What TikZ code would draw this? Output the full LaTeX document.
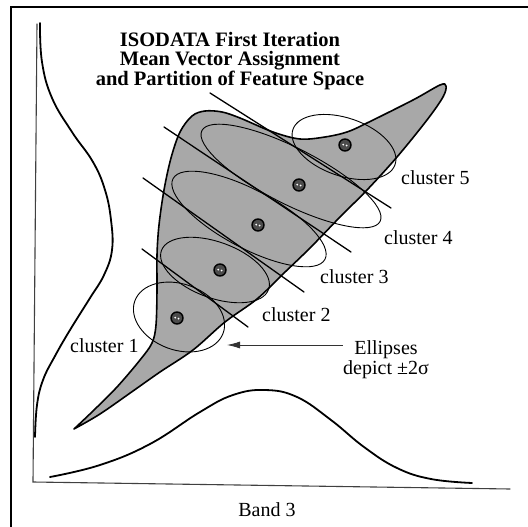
\documentclass[tikz,border=0pt]{standalone}
\usepackage{fontspec}
\setmainfont{Liberation Serif}
\usepackage{tikz}
\usetikzlibrary{arrows.meta,calc}

\begin{document}
\begin{tikzpicture}[x=1pt, y=-1pt,
    frameline/.style={
        black,
        line width=2pt
    },
    axisline/.style={
        black!75,
        line width=1.1pt,
        line cap=round
    },
    margcurve/.style={
        black,
        line width=1.8pt,
        line cap=round,
        line join=round
    },
    blob/.style={
        fill=black!34,
        draw=black,
        line width=1.6pt,
        line join=round
    },
    ellline/.style={
        black,
        line width=0.9pt
    },
    partline/.style={
        black,
        line width=1.3pt,
        line cap=round
    },
    clmean/.style={
        circle,
        draw=black,
        line width=1.4pt,
        fill=black!70,
        inner sep=0pt,
        minimum size=12pt,
        path picture={
            \fill[white]
            ([xshift=-1.8pt, yshift=0.4pt]path picture bounding box.center)
            circle (1pt);
            \fill[white]
            ([xshift=1.6pt, yshift=-0.6pt]path picture bounding box.center)
            circle (1pt);
        }
    },
    cllabel/.style={
        anchor=west,
        inner sep=0pt,
        font=\fontsize{20}{20}\selectfont
    },
    titletext/.style={
        align=center,
        inner sep=0pt,
        font=\bfseries\fontsize{20.5}{19.5}\selectfont
    },
    arrowline/.style={
        black!80,
        line width=0.8pt,
        -{Latex[length=13pt,width=7pt]}
    }
]

\draw[frameline]
(11,527) -- (11,7) -- (528,7);

\draw[axisline]
(37,24) -- (33,482) -- (510,489);

\draw[margcurve]
plot[smooth, tension=0.7] coordinates {
    (40,23) (42,62) (52,98) (72,132) (93,162) (105,190)
    (111,220) (112,250) (104,275) (90,298) (70,330)
    (55,356) (43,380) (37,405) (35,437)
};

\draw[margcurve]
plot[smooth, tension=0.7] coordinates {
    (50,477) (100,465) (150,444) (200,412) (233,395) (265,390)
    (297,397) (331,420) (364,447) (397,468) (431,479) (472,483)
};

\filldraw[blob]
plot[smooth, tension=0.55] coordinates {
    (74,429) (93,411) (117,387) (140,360) (152,343)
    (156,325) (157,290) (157,255) (159,225) (164,190)
    (171,158) (180,132) (192,116) (205,111) (222,112)
    (240,118) (273,132) (300,139) (325,137) (347,132)
    (367,123) (413,100) (440,85) (446,86) (443,97)
    (427,120) (397,157) (367,190) (340,217) (310,248)
    (283,274) (257,299) (225,322) (193,350) (160,372)
    (133,391) (100,414) (74,429)
} -- cycle;

\coordinate (e1) at (179,317);
\coordinate (e2) at (215,270);
\coordinate (e3) at (249,219);
\coordinate (e4) at (291,176);
\coordinate (e5) at (344,147);

\draw[ellline, rotate around={-20:(e1)}]
(e1) ellipse [x radius=47, y radius=33];

\draw[ellline, rotate around={-20:(e2)}]
(e2) ellipse [x radius=57, y radius=28];

\draw[ellline, rotate around={-28:(e3)}]
(e3) ellipse [x radius=86, y radius=29];

\draw[ellline, rotate around={-27:(e4)}]
(e4) ellipse [x radius=100, y radius=28];

\draw[ellline, rotate around={-19:(e5)}]
(e5) ellipse [x radius=54, y radius=29];

\draw[partline]
(210,93) -- (391,208);

\draw[partline]
(164,127) -- (351,252);

\draw[partline]
(143,178) -- (304,292);

\draw[partline]
(142,249) -- (248,327);

\node[clmean] (m1) at (177,318) {};
\node[clmean] (m2) at (220,270) {};
\node[clmean] (m3) at (258,225) {};
\node[clmean] (m4) at (299,185) {};
\node[clmean] (m5) at (345,145) {};

\node[titletext] (ttl) at (230,61)
{ISODATA First Iteration\\Mean Vector Assignment\\and Partition of Feature Space};

\node[cllabel] (cl5) at (401,178) {cluster 5};
\node[cllabel] (cl4) at (384,238) {cluster 4};
\node[cllabel] (cl3) at (320,277) {cluster 3};
\node[cllabel] (cl2) at (262,315) {cluster 2};
\node[cllabel] (cl1) at (70,346) {cluster 1};

\node[cllabel, anchor=center, align=center] (ell) at (386,360)
{Ellipses\\depict ±2σ};

\node[cllabel, anchor=center] (band) at (267,510) {Band 3};

\coordinate (elltip) at (227,345);

\draw[arrowline]
(ell.west |- elltip) -- (elltip);

\pgfresetboundingbox
\path[use as bounding box] (0,0) rectangle (528,527);
\end{tikzpicture}
\end{document}
